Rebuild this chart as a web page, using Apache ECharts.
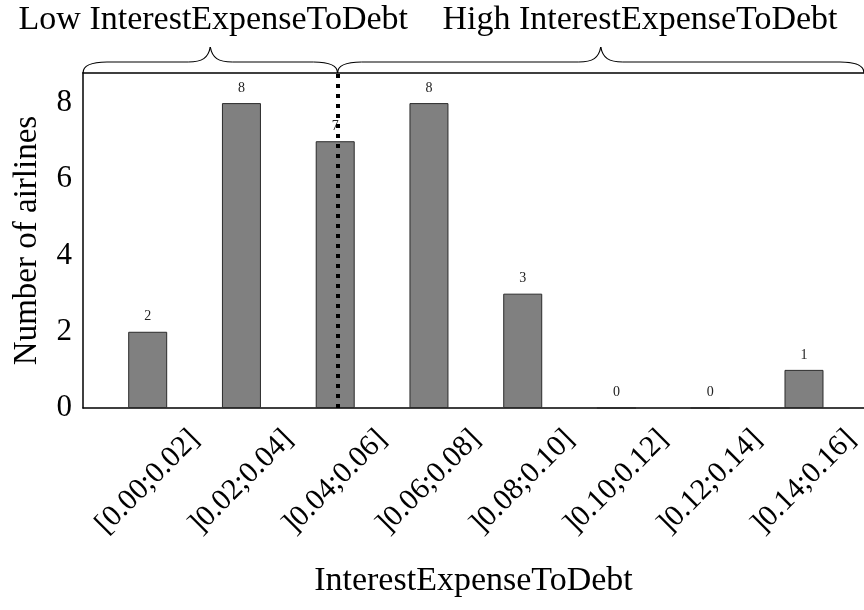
<!DOCTYPE html>
<html>
<head>
<meta charset="utf-8">
<script src="https://cdn.jsdelivr.net/npm/echarts@6/dist/echarts.min.js"></script>
<style>
  html, body { margin: 0; padding: 0; background: #fff; }
  #chart { width: 864px; height: 610px; }
</style>
</head>
<body>
<div id="chart"></div>
<script>
// Histogram bins and airline counts
const categories = ['[0.00;0.02]', ']0.02;0.04]', ']0.04;0.06]', ']0.06;0.08]',
                    ']0.08;0.10]', ']0.10;0.12]', ']0.12;0.14]', ']0.14;0.16]'];
const counts = [2, 8, 7, 8, 3, 0, 0, 1];
// Split point between low and high groups, in bin-index units
const threshold = 2.025;
const yTicks = [0, 2, 4, 6, 8];
const groupLabels = ['Low InterestExpenseToDebt', 'High InterestExpenseToDebt'];

const FONT = 'Liberation Serif';
const chart = echarts.init(document.getElementById('chart'), null, { renderer: 'canvas' });

const xMin = -0.69, xMax = 7.64, yMax = 8.79;

chart.setOption({
  animation: false,
  backgroundColor: '#ffffff',
  grid: { left: 83, right: 0, top: 73, bottom: 202 },
  xAxis: [{
    type: 'value',
    min: xMin, max: xMax,
    name: 'InterestExpenseToDebt',
    nameLocation: 'middle',
    nameGap: 156,
    nameTextStyle: { fontFamily: FONT, fontSize: 34, color: '#000', verticalAlign: 'top' },
    axisLine: { show: true, onZero: false, lineStyle: { color: '#000', width: 1.5 } },
    axisTick: { show: false },
    splitLine: { show: false },
    axisLabel: {
      customValues: categories.map((c, i) => i),
      formatter: v => categories[Math.round(v)] || '',
      rotate: 45,
      align: 'center',
      verticalAlign: 'middle',
      margin: 74,
      fontFamily: FONT, fontSize: 30, color: '#000'
    }
  }, {
    type: 'value', position: 'top',
    min: xMin, max: xMax,
    axisLine: { show: true, onZero: false, lineStyle: { color: '#000', width: 1.5 } },
    axisTick: { show: false }, axisLabel: { show: false }, splitLine: { show: false }
  }],
  yAxis: {
    type: 'value',
    min: 0, max: yMax, interval: 2,
    name: 'Number of airlines',
    nameLocation: 'middle',
    nameRotate: 90,
    nameGap: 39,
    nameTextStyle: { fontFamily: FONT, fontSize: 33, color: '#000' },
    axisLine: { show: true, onZero: false, lineStyle: { color: '#000', width: 1.5 } },
    axisTick: { show: false },
    splitLine: { show: false },
    axisLabel: {
      customValues: yTicks,
      margin: 11,
      fontFamily: FONT, fontSize: 31, color: '#000'
    }
  },
  series: [{
    type: 'bar',
    xAxisIndex: 0,
    barWidth: 39,
    data: counts.map((v, i) => [i, v]),
    itemStyle: { color: '#808080', borderColor: '#2b2b2b', borderWidth: 1 },
    label: {
      show: true, position: 'top', distance: 8,
      formatter: p => String(p.value[1]),
      fontFamily: FONT, fontSize: 14, color: '#222'
    },
    markLine: {
      silent: true,
      symbol: 'none',
      label: { show: false },
      lineStyle: { color: '#000', width: 4, type: [4, 6], dashOffset: 0 },
      data: [[{ coord: [threshold, 0] }, { coord: [threshold, yMax] }]]
    }
  }]
});

// Curly brace built from bezier curves and straight segments
function brace(xa, xb, yBase, yBody, yPeak) {
  const mid = (xa + xb) / 2;
  const st = { fill: 'none', stroke: '#000', lineWidth: 1.2 };
  const curve = (x1, y1, c1x, c1y, c2x, c2y, x2, y2) => ({
    type: 'bezierCurve', silent: true,
    shape: { x1, y1, cpx1: c1x, cpy1: c1y, cpx2: c2x, cpy2: c2y, x2, y2 }, style: st
  });
  const seg = (x1, y1, x2, y2) => ({ type: 'line', silent: true, shape: { x1, y1, x2, y2 }, style: st });
  return [
    curve(xa, yBase, xa, yBody + 3, xa + 8, yBody, xa + 24, yBody),
    seg(xa + 24, yBody, mid - 22, yBody),
    curve(mid - 22, yBody, mid - 8, yBody, mid - 2, yBody - 4, mid, yPeak),
    curve(mid, yPeak, mid + 2, yBody - 4, mid + 8, yBody, mid + 22, yBody),
    seg(mid + 22, yBody, xb - 24, yBody),
    curve(xb - 24, yBody, xb - 8, yBody, xb, yBody + 3, xb, yBase)
  ];
}

const pxLeft = chart.convertToPixel({ xAxisIndex: 0 }, xMin);
const pxSplit = chart.convertToPixel({ xAxisIndex: 0 }, threshold);
const pxRight = chart.convertToPixel({ xAxisIndex: 0 }, xMax);
const pxTop = chart.convertToPixel({ yAxisIndex: 0 }, yMax);

chart.setOption({
  graphic: [
    ...brace(pxLeft, pxSplit, pxTop, pxTop - 11, pxTop - 26),
    ...brace(pxSplit, pxRight, pxTop, pxTop - 11, pxTop - 26),
    { type: 'text', x: (pxLeft + pxSplit) / 2 + 3, y: 20,
      style: { text: groupLabels[0], font: `34px "${FONT}"`, fill: '#000', align: 'center', verticalAlign: 'middle' } },
    { type: 'text', x: 640, y: 20,
      style: { text: groupLabels[1], font: `34px "${FONT}"`, fill: '#000', align: 'center', verticalAlign: 'middle' } }
  ]
});
</script>
</body>
</html>
